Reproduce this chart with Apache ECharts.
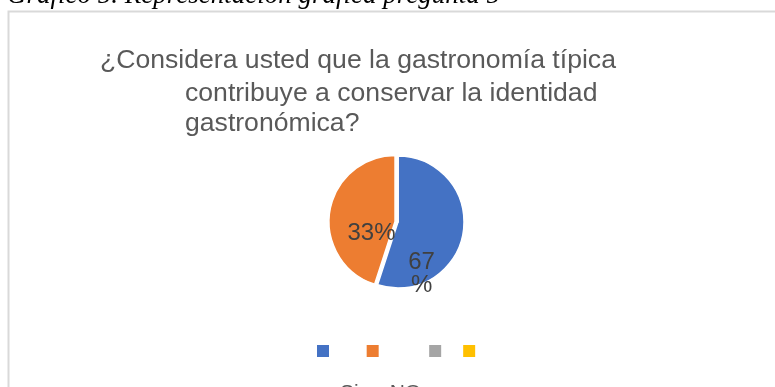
<!DOCTYPE html>
<html>
<head>
<meta charset="utf-8">
<script src="https://cdn.jsdelivr.net/npm/echarts@6/dist/echarts.min.js"></script>
<style>
html,body{margin:0;padding:0;background:#fff;}
#chart{width:775px;height:387px;}
</style>
</head>
<body>
<div id="chart"></div>
<script>
// ---- data ----
const caption = 'Gráfico 5. Representación gráfica pregunta 5';
const titleLines = ['¿Considera usted que la gastronomía típica', 'contribuye a conservar la identidad', 'gastronómica?'];
const categories = ['Si', 'NO', ' ', '  '];
const sliceValues = [55, 45, 0, 0];          // slice sizes as drawn
const sliceLabels = ['67%', '33%', '', ''];   // percentage labels as printed
const legendLabels = ['Si', 'NO', '', ''];
const colors = ['#4472C4', '#ED7D31', '#A5A5A5', '#FFC000'];

const chart = echarts.init(document.getElementById('chart'), null, {renderer: 'canvas'});

const labelShift = [[-12, 46], [12, 17], [0, 0], [0, 0]];
const legendRich = {
  t: {fontFamily: 'Liberation Sans, Arial, sans-serif', fontSize: 21, color: '#595959', lineHeight: 28, padding: [0, 0, 0, 5]},
  e: {width: 8, lineHeight: 28}
};
const titleFont = '26.6px "Liberation Sans", Arial, sans-serif';

const option = {
  animation: false,
  color: colors,
  graphic: [
    {type: 'rect', shape: {x: 8.5, y: 11.5, width: 900, height: 500},
     style: {fill: 'none', stroke: '#d9d9d9', lineWidth: 2}, silent: true},
    {type: 'text', left: 7, top: -18,
     style: {text: caption, font: 'italic 27px "Liberation Serif", "Times New Roman", serif', fill: '#000'}},
    {type: 'text', left: 100, top: 47,
     style: {text: titleLines[0], font: titleFont, fill: '#595959'}},
    {type: 'text', left: 185, top: 80,
     style: {text: titleLines[1], font: titleFont, fill: '#595959'}},
    {type: 'text', left: 185, top: 110,
     style: {text: titleLines[2], font: titleFont, fill: '#595959'}}
  ],
  legend: {
    left: 315, top: 295, padding: 0,
    itemWidth: 14, itemHeight: 14, itemGap: 6,
    icon: 'rect',
    data: categories,
    selectedMode: false,
    textStyle: {lineHeight: 28, fontSize: 21, rich: legendRich},
    formatter: function (name) {
      const lab = legendLabels[categories.indexOf(name)];
      return '\n\n\n' + (lab ? '{t|' + lab + '}' : '{e| }');
    }
  },
  series: [{
    type: 'pie',
    center: [398, 222],
    radius: 66,
    startAngle: 90,
    clockwise: true,
    selectedMode: 'single',
    selectedOffset: 3,
    avoidLabelOverlap: false,
    stillShowZeroSum: false,
    itemStyle: {borderColor: '#fff', borderWidth: 1.5},
    emphasis: {disabled: true},
    labelLine: {show: false},
    label: {
      show: true,
      position: 'inside',
      fontFamily: 'Liberation Sans, Arial, sans-serif',
      fontSize: 24,
      color: '#404040',
      lineHeight: 23,
      formatter: function (p) { return sliceLabels[p.dataIndex]; }
    },
    labelLayout: function (p) {
      const s = labelShift[p.dataIndex];
      return {dx: s[0], dy: s[1]};
    },
    data: categories.map(function (c, i) {
      const d = {name: c, value: sliceValues[i]};
      if (i === 0) d.label = {width: 30, overflow: 'breakAll', align: 'center'};
      if (i === 1) d.selected = true;
      if (!sliceLabels[i]) d.label = {show: false};
      return d;
    })
  }]
};
chart.setOption(option);
</script>
</body>
</html>
